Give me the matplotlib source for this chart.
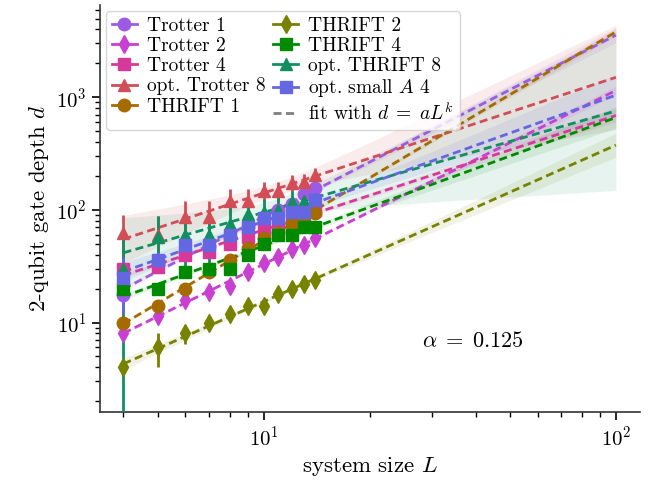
import numpy as np
import matplotlib
matplotlib.use('Agg')
import matplotlib.pyplot as plt
from matplotlib.lines import Line2D

plt.rcParams['font.family'] = 'serif'
plt.rcParams['font.serif'] = ['cmr10']
plt.rcParams['mathtext.fontset'] = 'cm'
plt.rcParams['axes.formatter.use_mathtext'] = True

L = np.arange(4, 15)

trotter1 = [17.5, 33, 42, 48, 58, 70, 85, 100, 112, 138, 155]
trotter2 = [8, 11.5, 16, 18.5, 21, 28, 34, 38, 45, 49, 56]
trotter4 = [30, 31, 40, 42, 50, 58, 66, 72, 82, 90, 100]
opt_trotter8 = [62, 60, 87, 87, 120, 120, 147, 147, 174, 177, 205]
opt_trotter8_err = [28, 28, 33, 33, 32, 32, 30, 30, 30, 30, 30]
thrift1 = [10, 14, 20, 28, 36, 46, 56, 62, 75, 88, 94]
thrift2 = [4, 6, 8, 10, 12, 14, 14, 18, 20, 22, 24]
thrift2_err = [0.3, 2, 1.5, 1.2, 0.8, 0.8, 0.8, 0.8, 0.8, 0.8, 0.8]
thrift4 = [20, 20, 28, 30, 30, 40, 50, 60, 60, 70, 70]
opt_thrift8 = [30, 58, 60, 60, 75, 92, 95, 100, 118, 120, 125]
opt_thrift8_err = [35, 30, 30, 30, 30, 30, 30, 30, 30, 30, 30]
opt_smallA4 = [25, 36, 49, 49, 60, 70, 85, 85, 96, 96, 122]
opt_smallA4_err = [13, 6, 6, 6, 6, 6, 6, 6, 6, 6, 6]

series = [
    ("Trotter 1", trotter1, None, '#9d5be3', 'o'),
    ("Trotter 2", trotter2, None, '#c83fd2', 'd'),
    ("Trotter 4", trotter4, None, '#d7399a', 's'),
    ("opt. Trotter 8", opt_trotter8, opt_trotter8_err, '#d24d55', '^'),
    ("THRIFT 1", thrift1, None, '#a66b00', 'o'),
    ("THRIFT 2", thrift2, thrift2_err, '#768200', 'd'),
    ("THRIFT 4", thrift4, None, '#008a00', 's'),
    ("opt. THRIFT 8", opt_thrift8, opt_thrift8_err, '#109060', '^'),
    (r"opt. small $A$ 4", opt_smallA4, opt_smallA4_err, '#6466e2', 's'),
]

fig = plt.figure(figsize=(6.49, 4.93), dpi=100)
ax = fig.add_axes([0.154, 0.164, 0.832, 0.826])

Lfit = np.logspace(np.log10(4), 2, 100)
lx = np.log10(Lfit)
handles = []
for name, d, err, c, m in series:
    d = np.array(d, dtype=float)
    x = np.log10(L)
    y = np.log10(d)
    if err is not None:
        sig = np.array(err) / (d * np.log(10))
        p, C = np.polyfit(x, y, 1, w=1 / sig, cov='unscaled')
        nsig = 2
    else:
        p, C = np.polyfit(x, y, 1, cov=True)
        nsig = 1
    yf = p[0] * lx + p[1]
    J = np.vstack([lx, np.ones_like(lx)])
    s = np.sqrt(np.einsum('ij,ik,kj->j', J, C, J))
    ax.fill_between(Lfit, 10**(yf - nsig * s), 10**(yf + nsig * s), color=c, alpha=0.1, lw=0, zorder=1)
    ax.plot(Lfit, 10**yf, color=c, lw=2, dashes=(2.9, 1.6), zorder=2)
    ax.errorbar(L, d, yerr=err, fmt=m, color=c, ms=9, elinewidth=2, capsize=0, zorder=3)
    handles.append(Line2D([], [], color=c, marker=m, ms=9, lw=2, label=name))
handles.append(Line2D([], [], color='gray', dashes=(2.9, 1.6), lw=2, label=r'fit with $d\;=\;aL^k$'))

ax.set_xscale('log')
ax.set_yscale('log')
ax.set_xlim(3.43, 117)
ax.set_ylim(1.6, 6600)
ax.spines['top'].set_visible(False)
ax.spines['right'].set_visible(False)
for sp in ['left', 'bottom']:
    ax.spines[sp].set_linewidth(1.2)
    ax.spines[sp].set_color('#333333')
ax.tick_params(which='major', length=6, width=1.2, labelsize=15)
ax.tick_params(which='minor', length=3.5, width=1.0)
ax.set_xlabel(r'system size $L$', fontsize=16.5)
ax.set_ylabel(r'2-qubit gate depth $d$', fontsize=16.5)
ax.text(0.596, 0.16, r'$\alpha\;=\;0.125$', transform=ax.transAxes, fontsize=16, va='baseline')
ax.legend(handles=handles, ncol=2, loc='upper left', fontsize=14, handlelength=1.3,
          columnspacing=0.4, handletextpad=0.5, labelspacing=0.12, borderpad=0.3,
          borderaxespad=0.3)

fig.savefig('out.png', dpi=100)
